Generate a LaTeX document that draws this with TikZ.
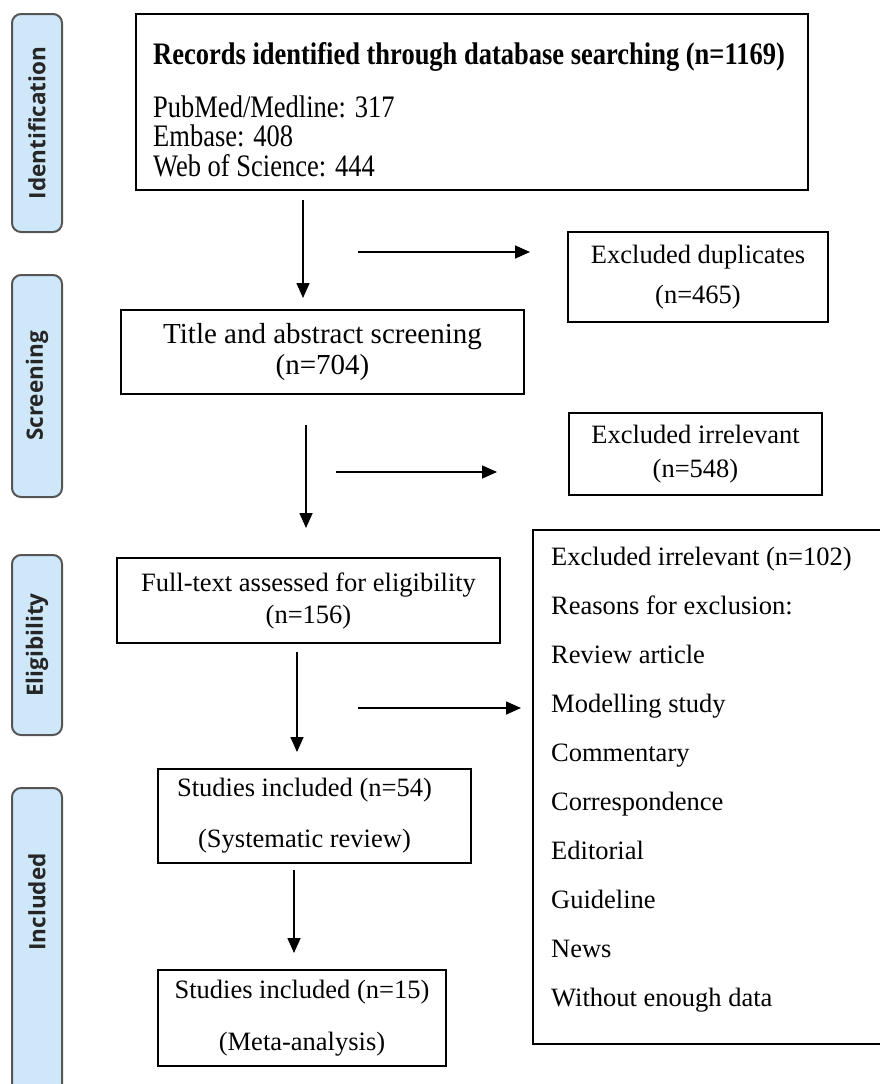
\documentclass[tikz,border=0pt]{standalone}
\usepackage{fontspec}
\setmainfont{Liberation Serif}
\newfontfamily\phasefont{Open Sans}
\usepackage{tikz}
\usetikzlibrary{arrows.meta}

\definecolor{phaseFill}{RGB}{207,232,249}
\definecolor{phaseLine}{RGB}{85,85,85}

\begin{document}
\begin{tikzpicture}[x=1pt,y=-1pt,
  box/.style={draw=black,line width=1.4pt,inner sep=0pt},
  txt/.style={align=center,inner sep=0pt},
  phase/.style={draw=phaseLine,fill=phaseFill,line width=2pt,rounded corners=9pt,inner sep=0pt,minimum height=50pt,rotate=90},
  phasetext/.style={inner sep=0pt,font=\phasefont\bfseries\fontsize{22.5}{26}\selectfont,text=black!85},
  flow/.style={line width=1.6pt,-{Triangle[length=15pt,width=13pt]}}]
\useasboundingbox (0,0) rectangle (880,1084);
\clip (0,0) rectangle (880,1084);
\node[phase,minimum width=218,phasetext] (ident) at (37,123) {Identification};
\node[phase,minimum width=222,phasetext] (screen) at (37,386) {Screening};
\node[phase,minimum width=180,phasetext] (elig) at (37,645) {Eligibility};
\node[phase,minimum width=312] (incl) at (37,944) {};
\node[phasetext,rotate=90] (inclText) at (37,902) {Included};
\node[box,minimum width=672,minimum height=176] (rec) at (472,102) {};
\node[anchor=north west,align=left,inner sep=0pt,font=\fontsize{26.5}{25}\selectfont,yscale=1.18,transform shape] (recText) at (153,42) {\textbf{Records identified through database searching (n=1169)}\\[20pt]PubMed/Medline: 317\\Embase: 408\\Web of Science: 444};
\node[box,txt,minimum width=260,minimum height=90,font=\fontsize{26.5}{40}\selectfont] (dup) at (698,277) {Excluded duplicates\\(n=465)};
\node[box,txt,minimum width=403,minimum height=84,font=\fontsize{29}{31}\selectfont] (tas) at (322.5,352) {Title and abstract screening\\(n=704)};
\node[box,txt,minimum width=253,minimum height=82,font=\fontsize{26.5}{34}\selectfont] (irr) at (695.5,454) {Excluded irrelevant\\(n=548)};
\node[box,txt,minimum width=383,minimum height=85,font=\fontsize{26.5}{32}\selectfont] (ft) at (308.5,600.5) {Full-text assessed for eligibility\\(n=156)};
\node[box,minimum width=352,minimum height=514] (rsn) at (709,787) {};
\node[anchor=north west,align=left,inner sep=0pt,font=\fontsize{26.5}{49}\selectfont] (rsnText) at (551,547) {Excluded irrelevant (n=102)\\Reasons for exclusion:\\Review article\\Modelling study\\Commentary\\Correspondence\\Editorial\\Guideline\\News\\Without enough data};
\node[box,txt,minimum width=313,minimum height=94,font=\fontsize{26.5}{51}\selectfont] (inc1) at (314.5,816) {Studies included (n=54)\hspace*{20pt}\\(Systematic review)\hspace*{20pt}};
\node[box,txt,minimum width=288,minimum height=96,font=\fontsize{26.5}{52}\selectfont] (inc2) at (302,1018) {Studies included (n=15)\\(Meta-analysis)};
\coordinate (v1a) at (303,200);
\coordinate (v1b) at (303,298);
\coordinate (h1a) at (358,252);
\coordinate (h1b) at (530,252);
\coordinate (v2a) at (306,425);
\coordinate (v2b) at (306,528);
\coordinate (h2a) at (336,472);
\coordinate (h2b) at (497,472);
\coordinate (v3a) at (297,652);
\coordinate (v3b) at (297,752);
\coordinate (h3a) at (358,708);
\coordinate (h3b) at (521,708);
\coordinate (v4a) at (294,870);
\coordinate (v4b) at (294,953);
\foreach \a/\b in {v1a/v1b,h1a/h1b,v2a/v2b,h2a/h2b,v3a/v3b,h3a/h3b,v4a/v4b}
  \draw[flow] (\a) -- (\b);
\end{tikzpicture}
\end{document}
